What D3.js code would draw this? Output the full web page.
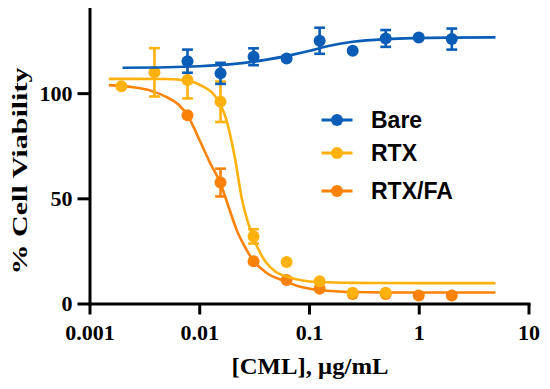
<!DOCTYPE html>
<html>
<head>
<meta charset="utf-8">
<script src="https://cdn.jsdelivr.net/npm/d3@7"></script>
<style>
  body { margin: 0; background: #fff; }
  svg { display: block; }
</style>
</head>
<body>
<svg id="chart" width="550" height="389"></svg>
<script>
// measured points (mean, +/- error), concentration in ug/mL
var concBare = [0.0078125, 0.015625, 0.03125, 0.0625, 0.125, 0.25, 0.5, 1, 2];
var meanBare = [115.2, 109.4, 117.3, 116.5, 124.9, 120.1, 126.0, 126.5, 125.7];
var errBare  = [5.5, 5.0, 4.0, 0, 6.2, 0, 4.0, 0, 5.0];

var concRTX = [0.001953, 0.003906, 0.0078125, 0.015625, 0.03125, 0.0625, 0.125, 0.25, 0.5];
var meanRTX = [103.3, 109.9, 106.2, 95.9, 31.9, 19.7, 10.6, 5.1, 5.1];
var errRTX  = [0, 11.5, 8.7, 9.6, 3.4, 0, 0, 0, 0];

var concRTXFA = [0.0078125, 0.015625, 0.03125, 0.0625, 0.125, 0.25, 0.5, 1, 2];
var meanRTXFA = [89.5, 57.5, 20.1, 11.2, 7.0, 4.5, 4.5, 3.8, 3.8];
var errRTXFA  = [0, 6.6, 0, 0, 0, 0, 0, 0, 0];

// fitted curves
var fitXBare = [0.002, 0.005, 0.01, 0.02, 0.04, 0.07, 0.1, 0.15, 0.25, 0.5, 1, 2, 5];
var fitYBare = [112.1, 112.3, 112.8, 113.8, 115.8, 118.2, 120.0, 122.4, 124.4, 125.7, 126.2, 126.4, 126.5];

var fitXRTX = [0.0015, 0.005, 0.008, 0.011, 0.014, 0.0175, 0.021, 0.0244, 0.028, 0.033, 0.04, 0.05, 0.0625, 0.09, 0.125, 0.25, 1, 5];
var fitYRTX = [106.8, 106.7, 105.8, 103, 98.5, 88, 70, 50, 38, 28, 20, 15, 12.8, 10.8, 10.2, 9.8, 9.7, 9.7];

var fitXRTXFA = [0.0015, 0.0025, 0.0036, 0.005, 0.0065, 0.0078, 0.0101, 0.0125, 0.0155, 0.0185, 0.0219, 0.026, 0.031, 0.04, 0.0625, 0.08, 0.125, 0.25, 1, 5];
var fitYRTXFA = [103.8, 102.8, 101.2, 98.2, 94.5, 89.5, 77.5, 67, 57.5, 46, 35, 27, 20.5, 15, 10.3, 8.2, 6.4, 5.5, 5.2, 5.2];

var xTicks = [0.001, 0.01, 0.1, 1, 10];
var xTickLabels = ["0.001", "0.01", "0.1", "1", "10"];
var yTicks = [0, 50, 100];
var yMinorTicks = [25, 75, 125];
var legendNames = ["Bare", "RTX", "RTX/FA"];

var colBare = "#0a5db6", colRTX = "#ffb10e", colRTXFA = "#fb8208";

var svg = d3.select("#chart");

var x = d3.scaleLog().domain([0.001, 10]).range([89.5, 528.5]);
var y = d3.scaleLinear().domain([0, 140]).range([303.5, 9]);

var xMinor = [];
for (var d = 0.001; d < 10; d *= 10) {
  for (var k = 2; k <= 9; k++) xMinor.push(d * k);
}

// axes
var gx = svg.append("g").attr("transform", "translate(0," + y(0) + ")");
gx.call(d3.axisBottom(x).tickValues(xMinor).tickSize(6).tickSizeOuter(0).tickFormat(""));
gx.call(d3.axisBottom(x).tickValues(xTicks).tickSize(11).tickSizeOuter(0).tickPadding(10)
  .tickFormat(function(v, i){ return xTickLabels[i]; }));

var gy = svg.append("g").attr("transform", "translate(" + x(0.001) + ",0)");
gy.call(d3.axisLeft(y).tickValues(yMinorTicks).tickSize(7).tickSizeOuter(0).tickFormat(""));
gy.call(d3.axisLeft(y).tickValues(yTicks).tickSize(12).tickSizeOuter(0).tickPadding(5));

svg.selectAll(".domain, .tick line")
  .attr("stroke", "#000")
  .attr("stroke-width", 3);
svg.selectAll(".domain").attr("stroke-linecap", "square");
svg.selectAll(".tick text")
  .attr("fill", "#000")
  .style("font-family", "'Liberation Serif', 'Times New Roman', serif")
  .style("font-weight", "bold")
  .style("font-size", "22px");

// axis titles
svg.append("text")
  .attr("x", 310).attr("y", 374)
  .attr("text-anchor", "middle")
  .attr("textLength", 157).attr("lengthAdjust", "spacingAndGlyphs")
  .style("font-family", "'Liberation Serif', 'Times New Roman', serif")
  .style("font-weight", "bold").style("font-size", "23px")
  .text("[CML], μg/mL");

svg.append("text")
  .attr("transform", "translate(27,171) rotate(-90)")
  .attr("text-anchor", "middle")
  .attr("textLength", 207).attr("lengthAdjust", "spacingAndGlyphs")
  .style("font-family", "'Liberation Serif', 'Times New Roman', serif")
  .style("font-weight", "bold").style("font-size", "22px")
  .text("% Cell Viability");

var line = d3.line()
  .x(function(p){ return x(p[0]); })
  .y(function(p){ return y(p[1]); })
  .curve(d3.curveMonotoneX);

function drawSeries(fx, fy, cx, my, er, color) {
  var g = svg.append("g");
  g.append("path")
    .datum(d3.zip(fx, fy))
    .attr("d", line)
    .attr("fill", "none")
    .attr("stroke", color)
    .attr("stroke-width", 2.6);

  var pts = d3.zip(cx, my, er);
  var eb = g.selectAll(".eb").data(pts.filter(function(p){ return p[2] > 0; })).enter().append("g");
  eb.append("line")
    .attr("x1", function(p){ return x(p[0]); })
    .attr("x2", function(p){ return x(p[0]); })
    .attr("y1", function(p){ return y(p[1] - p[2]); })
    .attr("y2", function(p){ return y(p[1] + p[2]); });
  eb.append("line")
    .attr("x1", function(p){ return x(p[0]) - 5.4; })
    .attr("x2", function(p){ return x(p[0]) + 5.4; })
    .attr("y1", function(p){ return y(p[1] + p[2]); })
    .attr("y2", function(p){ return y(p[1] + p[2]); });
  eb.append("line")
    .attr("x1", function(p){ return x(p[0]) - 5.4; })
    .attr("x2", function(p){ return x(p[0]) + 5.4; })
    .attr("y1", function(p){ return y(p[1] - p[2]); })
    .attr("y2", function(p){ return y(p[1] - p[2]); });
  eb.selectAll("line").attr("stroke", color).attr("stroke-width", 2.6);

  g.selectAll("circle").data(pts).enter().append("circle")
    .attr("cx", function(p){ return x(p[0]); })
    .attr("cy", function(p){ return y(p[1]); })
    .attr("r", 6)
    .attr("fill", color);
}

// drawing order: orange under yellow under blue
drawSeries(fitXRTXFA, fitYRTXFA, concRTXFA, meanRTXFA, errRTXFA, colRTXFA);
drawSeries(fitXRTX, fitYRTX, concRTX, meanRTX, errRTX, colRTX);
drawSeries(fitXBare, fitYBare, concBare, meanBare, errBare, colBare);

// legend
var legCols = [colBare, colRTX, colRTXFA];
var legY = [120, 153, 191];
var leg = svg.selectAll(".leg").data(legendNames).enter().append("g")
  .attr("transform", function(d, i){ return "translate(0," + legY[i] + ")"; });
leg.append("line")
  .attr("x1", 321.5).attr("x2", 352.5)
  .attr("stroke", function(d, i){ return legCols[i]; })
  .attr("stroke-width", 3);
leg.append("circle")
  .attr("cx", 337).attr("r", 6)
  .attr("fill", function(d, i){ return legCols[i]; });
leg.append("text")
  .attr("x", 371).attr("y", 8)
  .style("font-family", "'Liberation Sans', Arial, sans-serif")
  .style("font-weight", "bold").style("font-size", "23px")
  .text(function(d){ return d; });
</script>
</body>
</html>
